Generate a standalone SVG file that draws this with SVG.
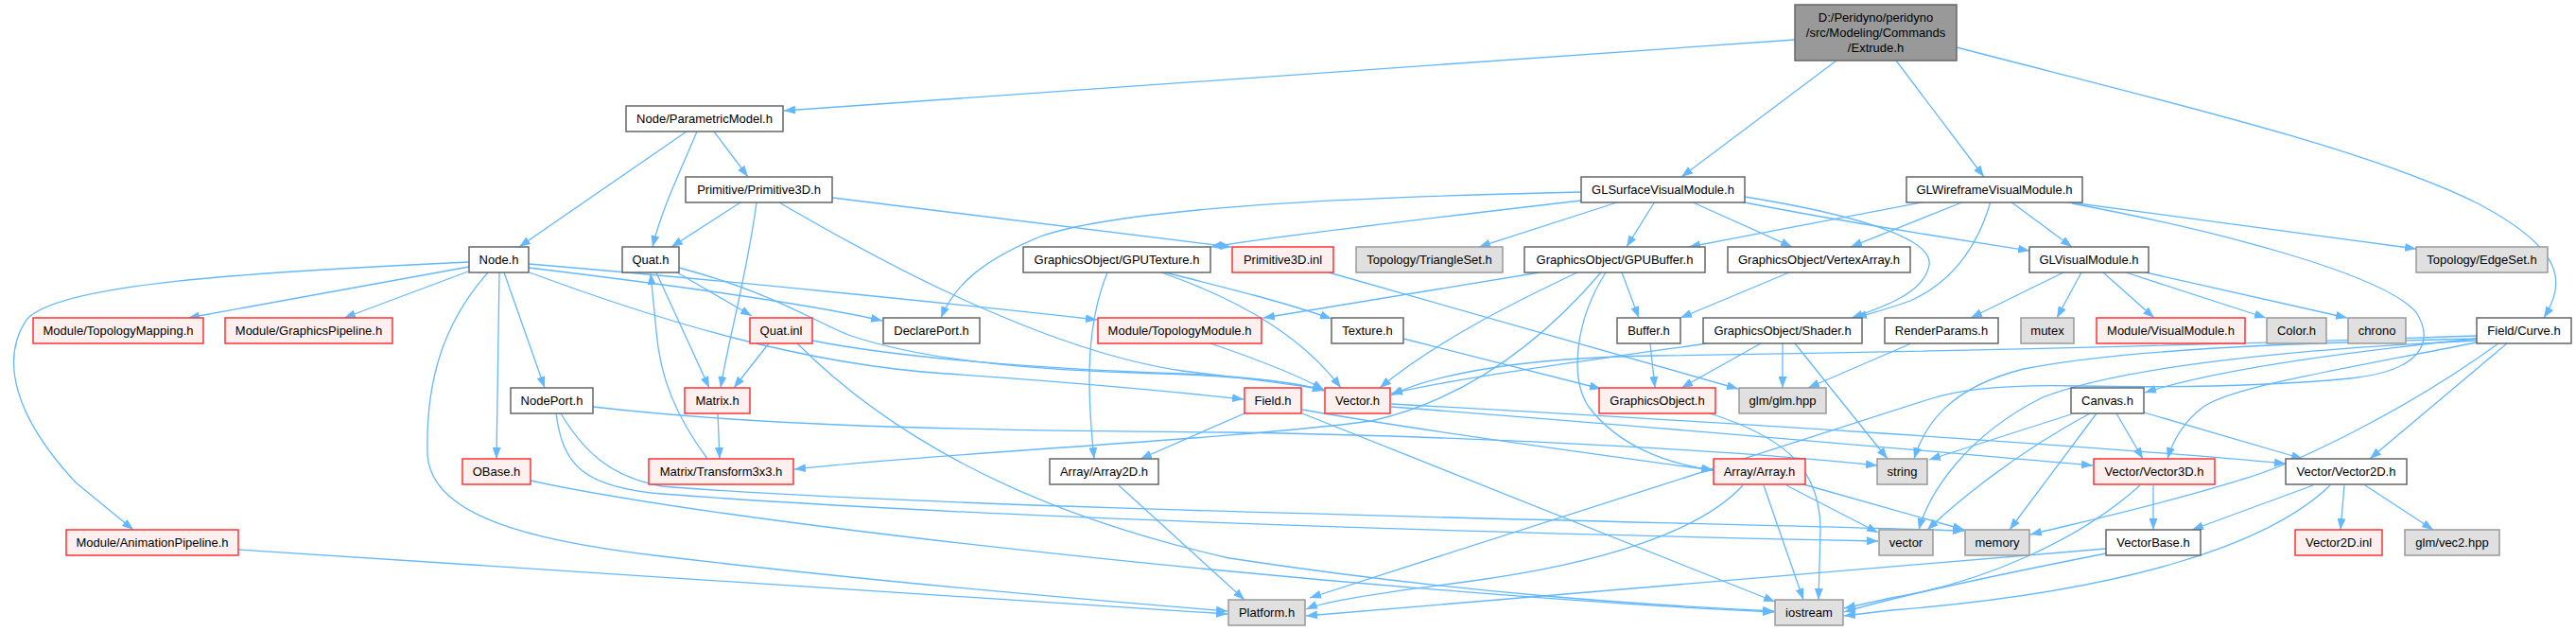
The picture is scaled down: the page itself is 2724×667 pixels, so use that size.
<svg xmlns="http://www.w3.org/2000/svg" width="2724" height="667" viewBox="0 0 2724 667">
<style>
.w rect{fill:#fff;stroke:#666;stroke-width:1.5}
.r rect{fill:#FFF0F0;stroke:#FF3333;stroke-width:1.5}
.g rect{fill:#E0E0E0;stroke:#999;stroke-width:1.5}
.root rect{fill:#999;stroke:#666;stroke-width:1.5}
text{font-family:"Liberation Sans",Arial,sans-serif;font-size:13px;text-anchor:middle;fill:#000}
#edges path{fill:none;stroke:#63B8FF;stroke-width:1.3;marker-end:url(#a)}
</style>
<defs>
<marker id="a" markerWidth="12" markerHeight="9" refX="12" refY="4.5" orient="auto" markerUnits="userSpaceOnUse">
<path d="M0,0 L12,4.5 L0,9 z" fill="#63B8FF" stroke="none"/>
</marker>
</defs>
<rect width="2724" height="667" fill="#fff"/>
<g id="edges">
<path d="M1898,42 L829,117"/>
<path d="M1942,64 L1778,187"/>
<path d="M2005,64 L2098,187"/>
<path d="M2069,50 C2260,100 2500,155 2620,215 C2715,265 2712,300 2690,336"/>
<path d="M726,139 L549,261"/>
<path d="M737,139 C720,180 700,220 690,261"/>
<path d="M755,139 L791,187"/>
<path d="M783,214 L710,261"/>
<path d="M800,214 C790,290 770,360 762,410"/>
<path d="M824,214 C920,270 1100,370 1250,392 C1330,402 1370,406 1400,412"/>
<path d="M880,209 L1302,261"/>
<path d="M496,282 L199,336"/>
<path d="M495,287 L364,336"/>
<path d="M496,277 C260,288 60,300 28,338 C0,380 15,440 80,510 L141,560"/>
<path d="M533,288 L576,410"/>
<path d="M528,288 L525,485"/>
<path d="M516,288 C470,340 450,400 452,480 C455,545 560,572 700,588 C900,612 1100,630 1298,646"/>
<path d="M559,279 C750,295 1000,320 1160,338"/>
<path d="M559,283 C700,300 850,320 933,339"/>
<path d="M560,288 C700,340 850,385 1000,395 C1150,405 1250,415 1315,422"/>
<path d="M716,288 L795,334"/>
<path d="M694,288 L750,410"/>
<path d="M718,283 C820,310 860,340 900,355 C960,375 1060,390 1200,394 C1300,397 1360,402 1400,412"/>
<path d="M813,363 L776,410"/>
<path d="M859,360 C950,378 1100,390 1250,395 C1330,398 1370,405 1400,413"/>
<path d="M843,363 C950,470 1100,545 1300,590 C1550,628 1750,640 1876,646"/>
<path d="M759,437 L761,485"/>
<path d="M748,485 C715,440 698,400 694,350 L688,289"/>
<path d="M627,430 C800,450 1000,455 1300,457 C1600,462 1850,478 1985,492"/>
<path d="M588,437 C595,490 615,515 700,522 C1000,545 1500,562 1986,572"/>
<path d="M593,437 C620,482 650,505 700,514 C1000,538 1700,550 2077,561"/>
<path d="M561,508 C800,560 1500,630 1876,647"/>
<path d="M252,581 L1298,649"/>
<path d="M1171,288 C1150,340 1148,400 1157,485"/>
<path d="M1228,288 C1320,320 1380,360 1418,410"/>
<path d="M1232,288 C1300,305 1360,320 1408,337"/>
<path d="M1672,203 C1500,207 1200,215 1100,250 C1040,275 1010,300 995,336"/>
<path d="M1672,212 C1500,232 1350,250 1280,261"/>
<path d="M1713,213 L1564,261"/>
<path d="M1750,213 L1720,261"/>
<path d="M1788,213 L1895,261"/>
<path d="M1840,213 C1950,235 2050,250 2146,265"/>
<path d="M1845,208 C1950,225 2045,250 2040,280 C2035,310 1990,325 1958,336"/>
<path d="M2037,213 L1786,261"/>
<path d="M2077,213 L1957,261"/>
<path d="M2105,213 C2090,265 2060,300 2020,318 C1995,327 1975,332 1962,336"/>
<path d="M2126,213 L2191,261"/>
<path d="M2182,213 L2555,263"/>
<path d="M2191,215 C2350,245 2520,290 2555,330 C2575,362 2560,392 2485,400 C2400,408 2300,410 2200,408 C2120,406 2070,412 2040,422 L1385,632"/>
<path d="M1628,288 L1336,336"/>
<path d="M1668,288 C1600,320 1520,360 1459,410"/>
<path d="M1693,288 C1640,350 1560,420 1450,445 C1300,465 1000,478 840,496"/>
<path d="M1698,288 C1665,340 1660,400 1680,430 C1710,470 1760,490 1812,497"/>
<path d="M1715,288 L1733,336"/>
<path d="M1892,288 L1777,336"/>
<path d="M1405,288 L1838,411"/>
<path d="M1280,363 C1330,380 1370,395 1400,412"/>
<path d="M1484,358 L1693,411"/>
<path d="M1745,363 L1750,410"/>
<path d="M1862,363 L1778,410"/>
<path d="M1885,363 L1885,410"/>
<path d="M1898,363 L1996,485"/>
<path d="M1805,363 C1650,385 1540,400 1471,416"/>
<path d="M2021,363 L1912,410"/>
<path d="M2182,288 L2084,336"/>
<path d="M2201,288 L2175,336"/>
<path d="M2224,288 L2278,336"/>
<path d="M2248,288 L2396,336"/>
<path d="M2269,288 L2482,336"/>
<path d="M2619,358 C2450,375 2330,395 2268,415"/>
<path d="M2619,355 C2300,366 2050,372 1750,376 C1600,378 1510,398 1471,418"/>
<path d="M2619,358 C2450,362 2250,368 2140,390 C2060,410 2035,450 2024,485"/>
<path d="M2619,360 C2450,368 2250,385 2160,420 C2080,460 2040,520 2029,560"/>
<path d="M2619,362 C2450,395 2360,410 2330,430 C2310,445 2298,465 2292,485"/>
<path d="M2642,363 C2550,430 2430,490 2370,507 C2280,535 2200,552 2147,565"/>
<path d="M2651,363 L2506,485"/>
<path d="M2190,438 L2040,486"/>
<path d="M2210,437 C2130,480 2070,530 2038,560"/>
<path d="M2217,437 L2125,560"/>
<path d="M2238,437 L2266,485"/>
<path d="M2267,436 L2435,485"/>
<path d="M1471,427 C1800,445 2200,470 2417,490"/>
<path d="M1471,430 C1800,455 2050,478 2213,492"/>
<path d="M1316,437 L1206,485"/>
<path d="M1377,433 C1500,455 1700,482 1811,497"/>
<path d="M1377,437 L1877,636"/>
<path d="M1183,513 L1316,634"/>
<path d="M1843,513 C1800,560 1700,595 1550,615 C1450,628 1400,636 1381,644"/>
<path d="M1865,513 L1907,634"/>
<path d="M1889,513 L1986,563"/>
<path d="M1907,512 L2077,560"/>
<path d="M1808,437 C1880,460 1925,490 1925,560 L1923,634"/>
<path d="M2277,513 L2277,560"/>
<path d="M2263,513 C2200,570 2100,615 2000,632 L1950,643"/>
<path d="M2446,513 L2318,560"/>
<path d="M2479,513 L2475,560"/>
<path d="M2501,513 L2573,560"/>
<path d="M2464,513 C2400,575 2250,625 2000,645 L1950,651"/>
<path d="M2227,580 C2000,598 1700,622 1381,651"/>
<path d="M2227,585 C2100,610 2000,632 1950,647"/>
</g>
<g id="root" class="root"><rect x="1898" y="5" width="171" height="59"/><text x="1983.5" y="23">D:/Peridyno/peridyno</text><text x="1983.5" y="39">/src/Modeling/Commands</text><text x="1983.5" y="55">/Extrude.h</text></g>
<g id="pm" class="w"><rect x="662" y="112" width="166" height="27"/><text x="745" y="130">Node/ParametricModel.h</text></g>
<g id="prim3d" class="w"><rect x="725" y="187" width="155" height="27"/><text x="802.5" y="205">Primitive/Primitive3D.h</text></g>
<g id="glsurf" class="w"><rect x="1672" y="187" width="173" height="27"/><text x="1758.5" y="205">GLSurfaceVisualModule.h</text></g>
<g id="glwire" class="w"><rect x="2016" y="187" width="186" height="27"/><text x="2109" y="205">GLWireframeVisualModule.h</text></g>
<g id="node" class="w"><rect x="496" y="261" width="63" height="27"/><text x="527.5" y="279">Node.h</text></g>
<g id="quat" class="w"><rect x="658" y="261" width="60" height="27"/><text x="688" y="279">Quat.h</text></g>
<g id="gputex" class="w"><rect x="1082" y="261" width="198" height="27"/><text x="1181" y="279">GraphicsObject/GPUTexture.h</text></g>
<g id="prim3dinl" class="r"><rect x="1303" y="261" width="107" height="27"/><text x="1356.5" y="279">Primitive3D.inl</text></g>
<g id="triset" class="g"><rect x="1434" y="261" width="155" height="27"/><text x="1511.5" y="279">Topology/TriangleSet.h</text></g>
<g id="gpubuf" class="w"><rect x="1612" y="261" width="191" height="27"/><text x="1707.5" y="279">GraphicsObject/GPUBuffer.h</text></g>
<g id="vao" class="w"><rect x="1827" y="261" width="193" height="27"/><text x="1923.5" y="279">GraphicsObject/VertexArray.h</text></g>
<g id="glvis" class="w"><rect x="2146" y="261" width="126" height="27"/><text x="2209" y="279">GLVisualModule.h</text></g>
<g id="edgeset" class="g"><rect x="2555" y="261" width="139" height="27"/><text x="2624.5" y="279">Topology/EdgeSet.h</text></g>
<g id="topomap" class="r"><rect x="35" y="336" width="180" height="27"/><text x="125" y="354">Module/TopologyMapping.h</text></g>
<g id="gpipe" class="r"><rect x="238" y="336" width="177" height="27"/><text x="326.5" y="354">Module/GraphicsPipeline.h</text></g>
<g id="quatinl" class="r"><rect x="793" y="336" width="66" height="27"/><text x="826" y="354">Quat.inl</text></g>
<g id="declport" class="w"><rect x="934" y="336" width="102" height="27"/><text x="985" y="354">DeclarePort.h</text></g>
<g id="topomod" class="r"><rect x="1161" y="336" width="173" height="27"/><text x="1247.5" y="354">Module/TopologyModule.h</text></g>
<g id="texture" class="w"><rect x="1408" y="336" width="76" height="27"/><text x="1446" y="354">Texture.h</text></g>
<g id="buffer" class="w"><rect x="1710" y="336" width="67" height="27"/><text x="1743.5" y="354">Buffer.h</text></g>
<g id="shader" class="w"><rect x="1801" y="336" width="168" height="27"/><text x="1885" y="354">GraphicsObject/Shader.h</text></g>
<g id="renderp" class="w"><rect x="1993" y="336" width="120" height="27"/><text x="2053" y="354">RenderParams.h</text></g>
<g id="mutex" class="g"><rect x="2137" y="336" width="56" height="27"/><text x="2165" y="354">mutex</text></g>
<g id="vismod" class="r"><rect x="2217" y="336" width="157" height="27"/><text x="2295.5" y="354">Module/VisualModule.h</text></g>
<g id="color" class="g"><rect x="2397" y="336" width="63" height="27"/><text x="2428.5" y="354">Color.h</text></g>
<g id="chrono" class="g"><rect x="2483" y="336" width="61" height="27"/><text x="2513.5" y="354">chrono</text></g>
<g id="curve" class="w"><rect x="2619" y="336" width="100" height="27"/><text x="2669" y="354">Field/Curve.h</text></g>
<g id="nodeport" class="w"><rect x="540" y="410" width="87" height="27"/><text x="583.5" y="428">NodePort.h</text></g>
<g id="matrix" class="r"><rect x="724" y="410" width="69" height="27"/><text x="758.5" y="428">Matrix.h</text></g>
<g id="field" class="r"><rect x="1316" y="410" width="60" height="27"/><text x="1346" y="428">Field.h</text></g>
<g id="vectorh" class="r"><rect x="1401" y="410" width="69" height="27"/><text x="1435.5" y="428">Vector.h</text></g>
<g id="gobj" class="r"><rect x="1691" y="410" width="123" height="27"/><text x="1752.5" y="428">GraphicsObject.h</text></g>
<g id="glm" class="g"><rect x="1839" y="410" width="92" height="27"/><text x="1885" y="428">glm/glm.hpp</text></g>
<g id="canvas" class="w"><rect x="2190" y="410" width="77" height="27"/><text x="2228.5" y="428">Canvas.h</text></g>
<g id="obase" class="r"><rect x="489" y="485" width="72" height="27"/><text x="525" y="503">OBase.h</text></g>
<g id="t3x3" class="r"><rect x="686" y="485" width="153" height="27"/><text x="762.5" y="503">Matrix/Transform3x3.h</text></g>
<g id="arr2d" class="w"><rect x="1110" y="485" width="115" height="27"/><text x="1167.5" y="503">Array/Array2D.h</text></g>
<g id="arr" class="r"><rect x="1812" y="485" width="97" height="27"/><text x="1860.5" y="503">Array/Array.h</text></g>
<g id="string" class="g"><rect x="1985" y="485" width="53" height="27"/><text x="2011.5" y="503">string</text></g>
<g id="v3d" class="r"><rect x="2214" y="485" width="128" height="27"/><text x="2278" y="503">Vector/Vector3D.h</text></g>
<g id="v2d" class="w"><rect x="2417" y="485" width="128" height="27"/><text x="2481" y="503">Vector/Vector2D.h</text></g>
<g id="animpipe" class="r"><rect x="70" y="560" width="182" height="27"/><text x="161" y="578">Module/AnimationPipeline.h</text></g>
<g id="vector" class="g"><rect x="1987" y="560" width="57" height="27"/><text x="2015.5" y="578">vector</text></g>
<g id="memory" class="g"><rect x="2078" y="560" width="68" height="27"/><text x="2112" y="578">memory</text></g>
<g id="vbase" class="w"><rect x="2227" y="560" width="100" height="27"/><text x="2277" y="578">VectorBase.h</text></g>
<g id="v2dinl" class="r"><rect x="2427" y="560" width="92" height="27"/><text x="2473" y="578">Vector2D.inl</text></g>
<g id="vec2" class="g"><rect x="2543" y="560" width="100" height="27"/><text x="2593" y="578">glm/vec2.hpp</text></g>
<g id="platform" class="g"><rect x="1299" y="634" width="81" height="27"/><text x="1339.5" y="652">Platform.h</text></g>
<g id="iostream" class="g"><rect x="1877" y="634" width="72" height="27"/><text x="1913" y="652">iostream</text></g>
</svg>
